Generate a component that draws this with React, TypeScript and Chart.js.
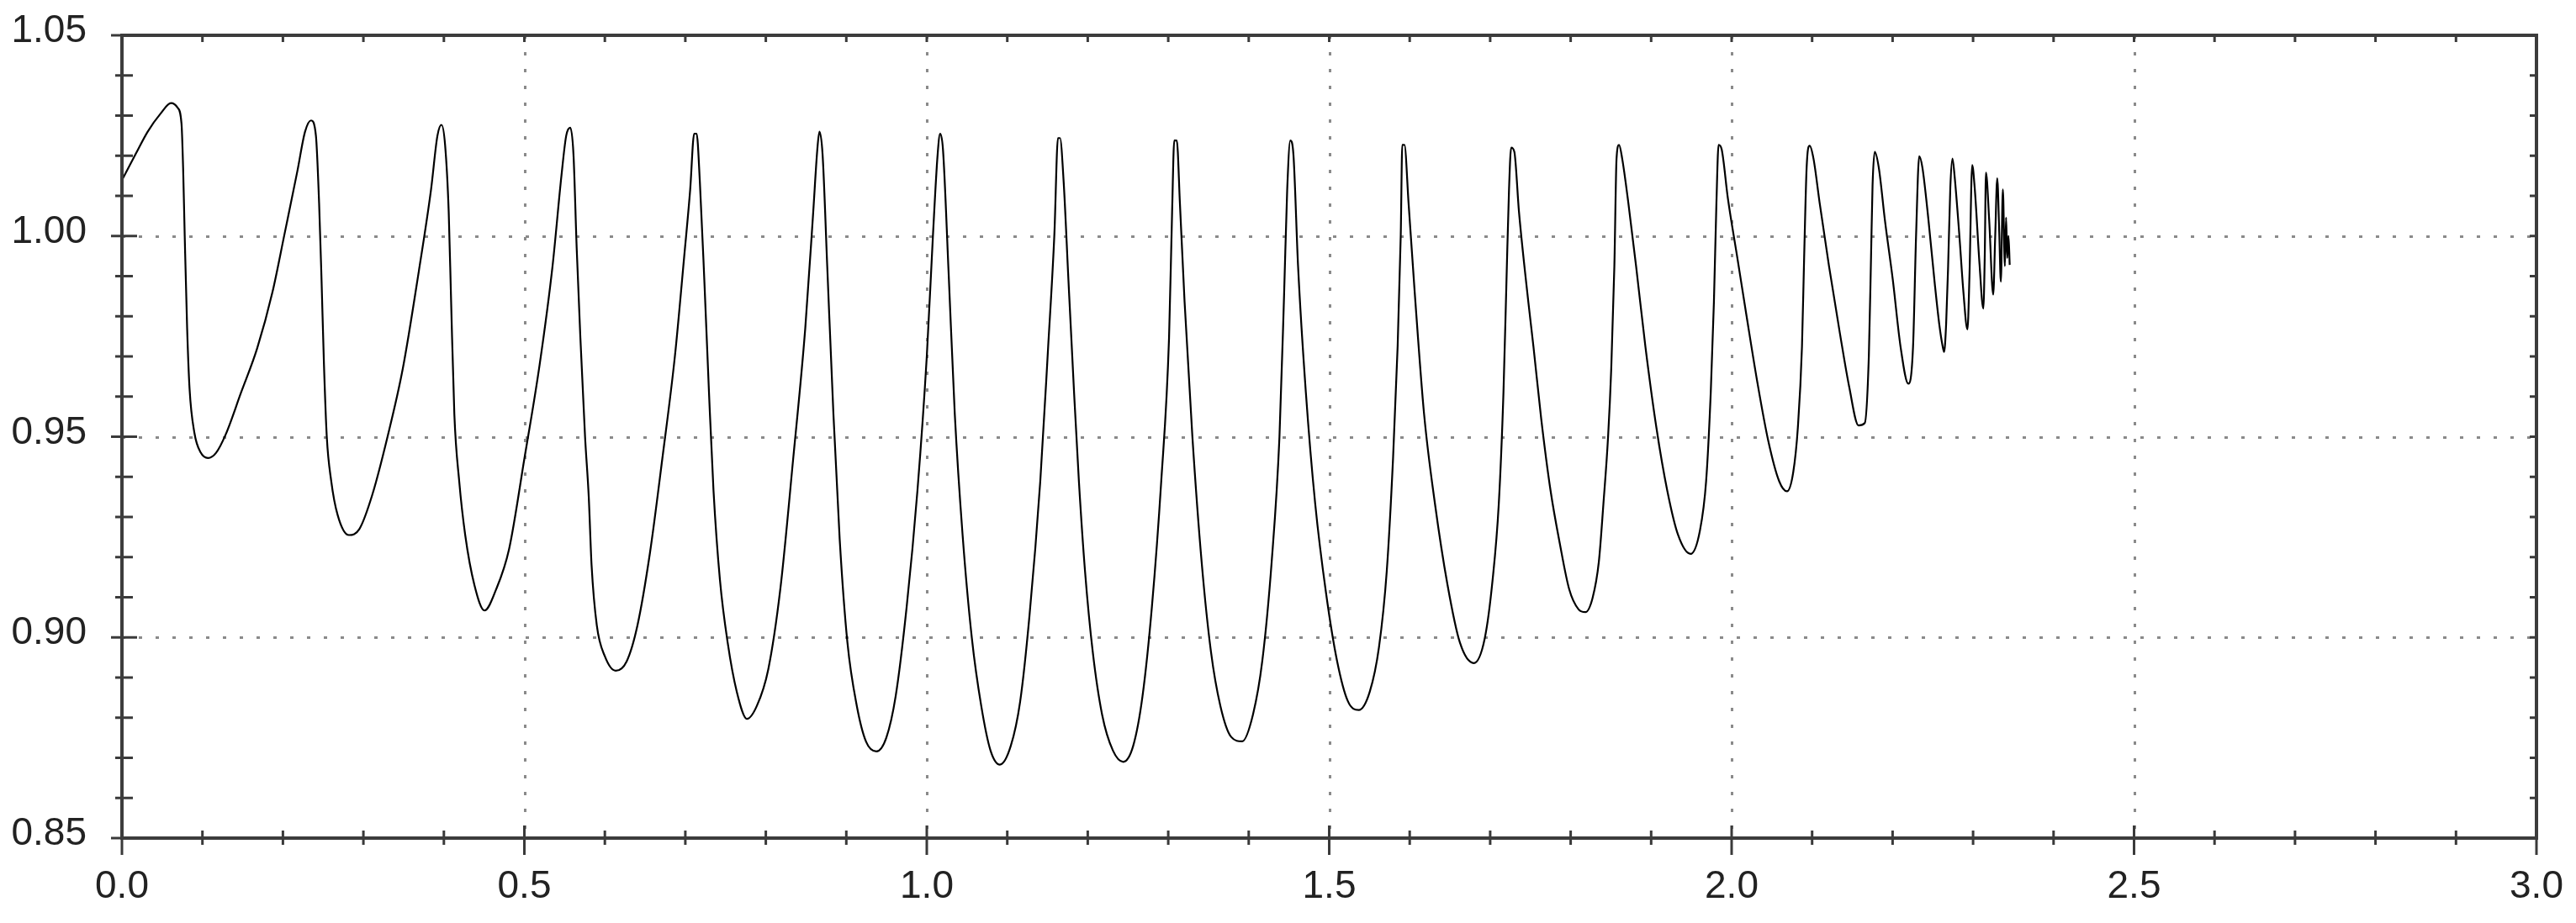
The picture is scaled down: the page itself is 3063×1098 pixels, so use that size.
import React, { useEffect, useRef } from "react";
import { Chart, registerables } from "chart.js";

Chart.register(...registerables);

// ---- data ----
const xTicks = [0, 0.5, 1.0, 1.5, 2.0, 2.5, 3.0];
const yTicks = [0.85, 0.9, 0.95, 1.0, 1.05];

const timeValues = [
  0.001, 0.017, 0.032, 0.048, 0.061, 0.069, 0.074, 0.076, 0.078, 0.081, 0.084, 0.09, 0.098, 0.107, 0.117, 0.129,
  0.148, 0.168, 0.187, 0.202, 0.218, 0.2275, 0.235, 0.241, 0.245, 0.248, 0.251, 0.2545, 0.26, 0.268, 0.282, 0.295,
  0.311, 0.33, 0.349, 0.369, 0.384, 0.392, 0.397, 0.4015, 0.406, 0.409, 0.413, 0.419, 0.4265, 0.438, 0.4505, 0.465,
  0.481, 0.5, 0.519, 0.535, 0.546, 0.552, 0.557, 0.561, 0.565, 0.5696, 0.5754, 0.58, 0.5835, 0.59, 0.6, 0.6135,
  0.627, 0.6405, 0.656, 0.6714, 0.687, 0.6985, 0.706, 0.711, 0.714, 0.718, 0.7236, 0.7294, 0.735, 0.743, 0.7526,
  0.764, 0.7766, 0.789, 0.803, 0.818, 0.834, 0.849, 0.8589, 0.864, 0.8666, 0.8705, 0.8763, 0.884, 0.8918, 0.9014,
  0.913, 0.9246, 0.9374, 0.9497, 0.9613, 0.975, 0.9884, 1.0, 1.0077, 1.0135, 1.0166, 1.0201, 1.027, 1.0348, 1.0445,
  1.056, 1.0676, 1.0792, 1.0908, 1.1044, 1.116, 1.1276, 1.141, 1.1508, 1.1585, 1.163, 1.1655, 1.17, 1.176, 1.183,
  1.189, 1.1966, 1.2062, 1.2178, 1.2313, 1.2441, 1.2565, 1.268, 1.2797, 1.2913, 1.301, 1.3048, 1.3075, 1.3106,
  1.3145, 1.3203, 1.33, 1.3415, 1.3531, 1.3647, 1.3782, 1.3918, 1.4053, 1.4169, 1.4285, 1.4382, 1.444, 1.4478,
  1.4517, 1.4555, 1.4613, 1.471, 1.4826, 1.4961, 1.5097, 1.5232, 1.5367, 1.5503, 1.5618, 1.5715, 1.5793, 1.585,
  1.5889, 1.5908, 1.5935, 1.5986, 1.6063, 1.6179, 1.6314, 1.6469, 1.6624, 1.6797, 1.6933, 1.703, 1.7107, 1.7165,
  1.7203, 1.7234, 1.7261, 1.73, 1.7358, 1.7474, 1.7538, 1.7634, 1.775, 1.7866, 1.7982, 1.8098, 1.8183, 1.8272,
  1.835, 1.8407, 1.8465, 1.8504, 1.8543, 1.857, 1.8601, 1.864, 1.8717, 1.8813, 1.8929, 1.9065, 1.92, 1.9335, 1.949,
  1.9606, 1.9683, 1.9741, 1.978, 1.9811, 1.9838, 1.9876, 1.9954, 2.007, 2.0186, 2.0321, 2.0456, 2.0591, 2.0688,
  2.0765, 2.0823, 2.0874, 2.0901, 2.0932, 2.097, 2.1017, 2.1094, 2.121, 2.1345, 2.1461, 2.1577, 2.1654, 2.1705,
  2.1732, 2.1751, 2.1778, 2.1828, 2.1906, 2.2002, 2.2099, 2.2196, 2.2254, 2.2292, 2.2331, 2.237, 2.2447, 2.2524,
  2.258, 2.2622, 2.264, 2.2665, 2.269, 2.2717, 2.2744, 2.277, 2.283, 2.288, 2.293, 2.2955, 2.2989, 2.302, 2.308,
  2.3127, 2.3145, 2.316, 2.32, 2.325, 2.3275, 2.33, 2.3325, 2.3345, 2.337, 2.3395, 2.341, 2.3425, 2.344, 2.3455,
];

const speedValues = [
  1.0143, 1.0204, 1.026, 1.0305, 1.0331, 1.032, 1.028, 1.017, 1.0, 0.977, 0.962, 0.951, 0.946, 0.9447, 0.946, 0.9506,
  0.961, 0.972, 0.986, 1.0005, 1.0162, 1.026, 1.0288, 1.025, 1.008, 0.989, 0.968, 0.95, 0.939, 0.9305, 0.9255, 0.927,
  0.9355, 0.95, 0.967, 0.9914, 1.0115, 1.025, 1.0277, 1.0227, 1.006, 0.9836, 0.9556, 0.939, 0.9255, 0.913, 0.9067, 0.912,
  0.922, 0.9445, 0.968, 0.9925, 1.0149, 1.025, 1.027, 1.0204, 0.997, 0.9746, 0.95, 0.935, 0.918, 0.903, 0.8953, 0.8917,
  0.894, 0.903, 0.921, 0.9445, 0.97, 0.9947, 1.0115, 1.0255, 1.0255, 1.0137, 0.989, 0.961, 0.9366, 0.9143, 0.8987,
  0.8864, 0.8797, 0.883, 0.892, 0.912, 0.9445, 0.977, 1.006, 1.0216, 1.026, 1.0204, 0.9925, 0.9556, 0.9244, 0.8987,
  0.883, 0.874, 0.8716, 0.875, 0.8853, 0.9076, 0.9366, 0.97, 1.0003, 1.0204, 1.0255, 1.0216, 0.9914, 0.9556, 0.9255,
  0.8998, 0.883, 0.8718, 0.8683, 0.873, 0.884, 0.9054, 0.9389, 0.9724, 1.0003, 1.0244, 1.0244, 1.0137, 0.989, 0.961,
  0.9389, 0.9165, 0.8964, 0.8808, 0.8718, 0.869, 0.873, 0.8853, 0.9076, 0.9389, 0.9746, 1.006, 1.0238, 1.0238,
  1.0082, 0.9836, 0.95, 0.9188, 0.8964, 0.883, 0.8752, 0.8741, 0.8808, 0.8942, 0.9188, 0.95, 0.9858, 1.0115,
  1.0238, 1.0204, 0.9925, 0.961, 0.9333, 0.911, 0.8942, 0.8841, 0.8819, 0.8864, 0.8975, 0.9165, 0.9445, 0.9724,
  1.0003, 1.0227, 1.0227, 1.0082, 0.9858, 0.9556, 0.9333, 0.9132, 0.8987, 0.8936, 0.8998, 0.9143, 0.9333, 0.961,
  0.9892, 1.0115, 1.022, 1.021, 1.006, 0.9836, 0.9724, 0.9545, 0.9366, 0.9233, 0.912, 0.907, 0.9063, 0.9098,
  0.9188, 0.9333, 0.95, 0.9668, 0.9925, 1.0193, 1.0227, 1.0193, 1.0082, 0.9925, 0.9724, 0.9523, 0.9366, 0.9255, 0.9208,
  0.9266, 0.9389, 0.9612, 0.9836, 1.0082, 1.0227, 1.0216, 1.0093, 0.9947, 0.98, 0.9634, 0.9489, 0.9389, 0.9364,
  0.9411, 0.9523, 0.9724, 0.9947, 1.0171, 1.0225, 1.0193, 1.0082, 0.9925, 0.9758, 0.9624, 0.9528, 0.9534, 0.9702,
  0.9947, 1.0126, 1.021, 1.0171, 1.0037, 0.9892, 0.9724, 0.9632, 0.9724, 1.0003, 1.0199, 1.0171, 1.0037, 0.9881,
  0.978, 0.9725, 0.9711, 0.978, 0.9925, 1.012, 1.0193, 1.015, 1.0, 0.986, 0.9767, 0.99, 1.0177, 1.012, 0.993,
  0.9819, 0.995, 1.0158, 1.004, 0.9854, 1.0, 1.0144, 1.001, 0.9886, 1.0116, 0.9925, 1.0046, 0.9945, 1.0, 0.9928,
];

const FONT = { family: "'Liberation Sans', Arial, sans-serif", size: 46, lineHeight: 1.2 };
const TEXT_COLOR = "#222";

const zeroPadding = (s: any) => {
  s.paddingTop = 0;
  s.paddingBottom = 0;
  s.paddingLeft = 0;
  s.paddingRight = 0;
};

const framePlugin = {
  id: "scopeFrame",
  beforeDatasetsDraw(chart: any) {
    const { ctx, chartArea: a, scales } = chart;
    const xs = scales.x;
    const ys = scales.y;
    ctx.save();
    ctx.strokeStyle = "#8a8a8a";
    ctx.lineWidth = 3;
    ctx.setLineDash([4, 16]);
    for (const v of xTicks) {
      if (v <= xTicks[0] || v >= xTicks[xTicks.length - 1]) continue;
      const px = Math.round(xs.getPixelForValue(v)) + 0.5;
      ctx.beginPath();
      ctx.moveTo(px, a.top);
      ctx.lineTo(px, a.bottom);
      ctx.stroke();
    }
    for (const v of yTicks) {
      if (v <= yTicks[0] + 1e-9 || v >= yTicks[yTicks.length - 1] - 1e-9) continue;
      const py = Math.round(ys.getPixelForValue(v)) + 0.5;
      ctx.beginPath();
      ctx.moveTo(a.left, py);
      ctx.lineTo(a.right, py);
      ctx.stroke();
    }
    ctx.restore();
  },
  afterDatasetsDraw(chart: any) {
    const { ctx, chartArea: a, scales } = chart;
    const xs = scales.x;
    const ys = scales.y;
    ctx.save();
    ctx.setLineDash([]);
    ctx.strokeStyle = "#3a3a3a";
    ctx.lineWidth = 3;
    // x minor/major ticks every 0.1
    for (let i = 0; i <= 30; i++) {
      const px = xs.getPixelForValue(i / 10);
      const major = i % 5 === 0;
      ctx.beginPath();
      ctx.moveTo(px, major ? a.bottom - 15 : a.bottom - 9);
      ctx.lineTo(px, major ? a.bottom + 20 : a.bottom + 8);
      ctx.moveTo(px, a.top);
      ctx.lineTo(px, a.top + 8);
      ctx.stroke();
    }
    // y minor/major ticks every 0.01
    for (let j = 0; j <= 20; j++) {
      const py = ys.getPixelForValue(0.85 + j * 0.01);
      const major = j % 5 === 0;
      ctx.beginPath();
      ctx.moveTo(major ? a.left - 13 : a.left - 8, py);
      ctx.lineTo(major ? a.left + 18 : a.left + 13, py);
      ctx.moveTo(a.right - 8, py);
      ctx.lineTo(a.right, py);
      ctx.stroke();
    }
    // frame
    ctx.lineWidth = 4;
    ctx.strokeStyle = "#3c3c3c";
    ctx.strokeRect(a.left, a.top, a.right - a.left, a.bottom - a.top);
    ctx.restore();
  },
};

export default function App() {
  const canvasRef = useRef<HTMLCanvasElement | null>(null);

  useEffect(() => {
    if (!canvasRef.current) return;
    const points = timeValues.map((t, i) => ({ x: t, y: speedValues[i] }));
    const chart = new Chart(canvasRef.current, {
      type: "line",
      data: {
        datasets: [
          {
            data: points,
            borderColor: "#000",
            borderWidth: 2.2,
            pointRadius: 0,
            fill: false,
            cubicInterpolationMode: "monotone",
          },
        ],
      },
      options: {
        animation: false,
        responsive: false,
        maintainAspectRatio: false,
        devicePixelRatio: 1,
        layout: { padding: { left: 0, right: 47, top: 42, bottom: 0 } },
        plugins: { legend: { display: false }, tooltip: { enabled: false } },
        scales: {
          x: {
            type: "linear",
            position: "bottom",
            min: xTicks[0],
            max: xTicks[xTicks.length - 1],
            afterBuildTicks: (s: any) => {
              s.ticks = xTicks.map((value) => ({ value }));
            },
            afterFit: (s: any) => {
              s.height = 101;
              zeroPadding(s);
            },
            grid: { display: false, drawTicks: false },
            border: { display: false },
            ticks: {
              autoSkip: false,
              maxRotation: 0,
              padding: 31,
              font: FONT,
              color: TEXT_COLOR,
              callback: (v: any) => Number(v).toFixed(1),
            },
          },
          y: {
            type: "linear",
            position: "left",
            min: yTicks[0],
            max: yTicks[yTicks.length - 1],
            afterBuildTicks: (s: any) => {
              s.ticks = yTicks.map((value) => ({ value }));
            },
            afterFit: (s: any) => {
              s.width = 145;
              zeroPadding(s);
            },
            grid: { display: false, drawTicks: false },
            border: { display: false },
            ticks: {
              autoSkip: false,
              padding: 42,
              labelOffset: -4.5,
              font: FONT,
              color: TEXT_COLOR,
              callback: (v: any) => Number(v).toFixed(2),
            },
          },
        },
      },
      plugins: [framePlugin],
    } as any);
    return () => chart.destroy();
  }, []);

  return (
    <div style={{ position: "fixed", left: 0, top: 0, width: 3063, height: 1098, background: "#fff" }}>
      <canvas ref={canvasRef} width={3063} height={1098} style={{ display: "block" }} />
    </div>
  );
}
